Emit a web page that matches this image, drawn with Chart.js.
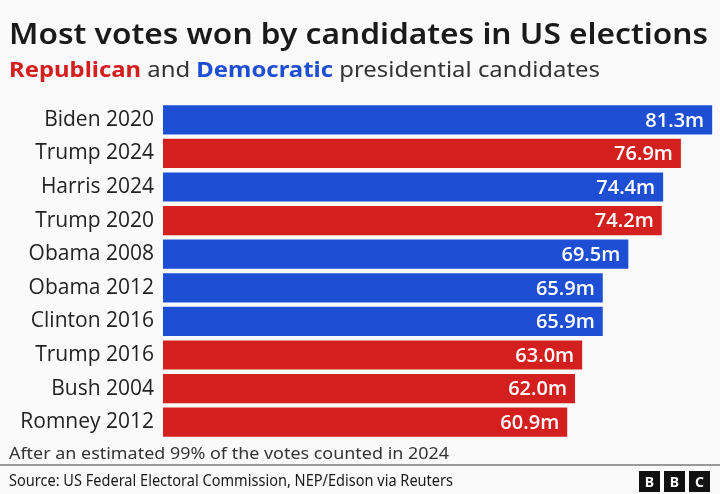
<!DOCTYPE html>
<html><head><meta charset="utf-8">
<script src="https://cdn.jsdelivr.net/npm/chart.js@4"></script>
<style>html,body{margin:0;padding:0;background:#fafafa}#w{width:720px;height:494px;position:relative}</style>
</head><body><div id="w"><canvas id="c"></canvas></div>
<script>
const categories=["Biden 2020","Trump 2024","Harris 2024","Trump 2020","Obama 2008","Obama 2012","Clinton 2016","Trump 2016","Bush 2004","Romney 2012"];
const votes=[81.3,76.9,74.4,74.2,69.5,65.9,65.9,63.0,62.0,60.9];
const party=["D","R","D","R","D","D","D","R","R","R"];
const RED="#d3201f",BLUE="#1d4ed4";
function fitText(c,parts,x,y,target){let w=0;for(const p of parts){c.font=p.f;w+=c.measureText(p.t).width;}
const s=target/w;c.save();c.translate(x,y);c.scale(s,1);let cx=0;for(const p of parts){c.font=p.f;c.fillStyle=p.col;c.fillText(p.t,cx,0);cx+=c.measureText(p.t).width;}c.restore();}
const deco={id:"deco",afterDraw(ch){const c=ch.ctx;c.save();c.textBaseline="alphabetic";
fitText(c,[{t:"Most votes won by candidates in US elections",f:"600 29px 'Noto Sans'",col:"#1a1a1a"}],9,44,699);
fitText(c,[{t:"Republican",f:"bold 21px 'Noto Sans'",col:RED},{t:" and ",f:"21px 'Noto Sans'",col:"#333"},{t:"Democratic",f:"bold 21px 'Noto Sans'",col:BLUE},{t:" presidential candidates",f:"21px 'Noto Sans'",col:"#333"}],9,77,591);
fitText(c,[{t:"After an estimated 99% of the votes counted in 2024",f:"16px 'Noto Sans'",col:"#333"}],9,459,440);
c.fillStyle="#999";c.fillRect(0,464,720,2);
fitText(c,[{t:"Source: US Federal Electoral Commission, NEP/Edison via Reuters",f:"16px 'Noto Sans'",col:"#1a1a1a"}],9,486,444);
["B","B","C"].forEach((l,i)=>{const bx=639+i*25;c.fillStyle="#111";c.fillRect(bx,471,21,21);c.fillStyle="#fff";c.font="bold 14px 'Noto Sans'";c.textAlign="center";c.fillText(l,bx+10.5,487);c.textAlign="left";});
const m=ch.getDatasetMeta(0);c.fillStyle="#fff";c.font="600 20px 'Open Sans'";c.textAlign="right";c.textBaseline="middle";
m.data.forEach((b,i)=>c.fillText(votes[i].toFixed(1)+"m",b.x-8,b.y+1));
c.restore();}};
new Chart(document.getElementById("c"),{type:"bar",
data:{labels:categories,datasets:[{data:votes,backgroundColor:party.map(p=>p==="R"?RED:BLUE),barPercentage:0.87,categoryPercentage:1}]},
options:{indexAxis:"y",responsive:true,maintainAspectRatio:false,animation:false,
layout:{padding:{top:103,bottom:55,left:0,right:5}},
plugins:{legend:{display:false},tooltip:{enabled:false}},
scales:{x:{display:false,min:4,max:81.7},
y:{grid:{display:false},border:{display:false},afterFit(s){s.width=163;},ticks:{padding:1,color:"#222",font:{family:"Open Sans",size:21}}}}},
plugins:[deco]});
</script></body></html>
